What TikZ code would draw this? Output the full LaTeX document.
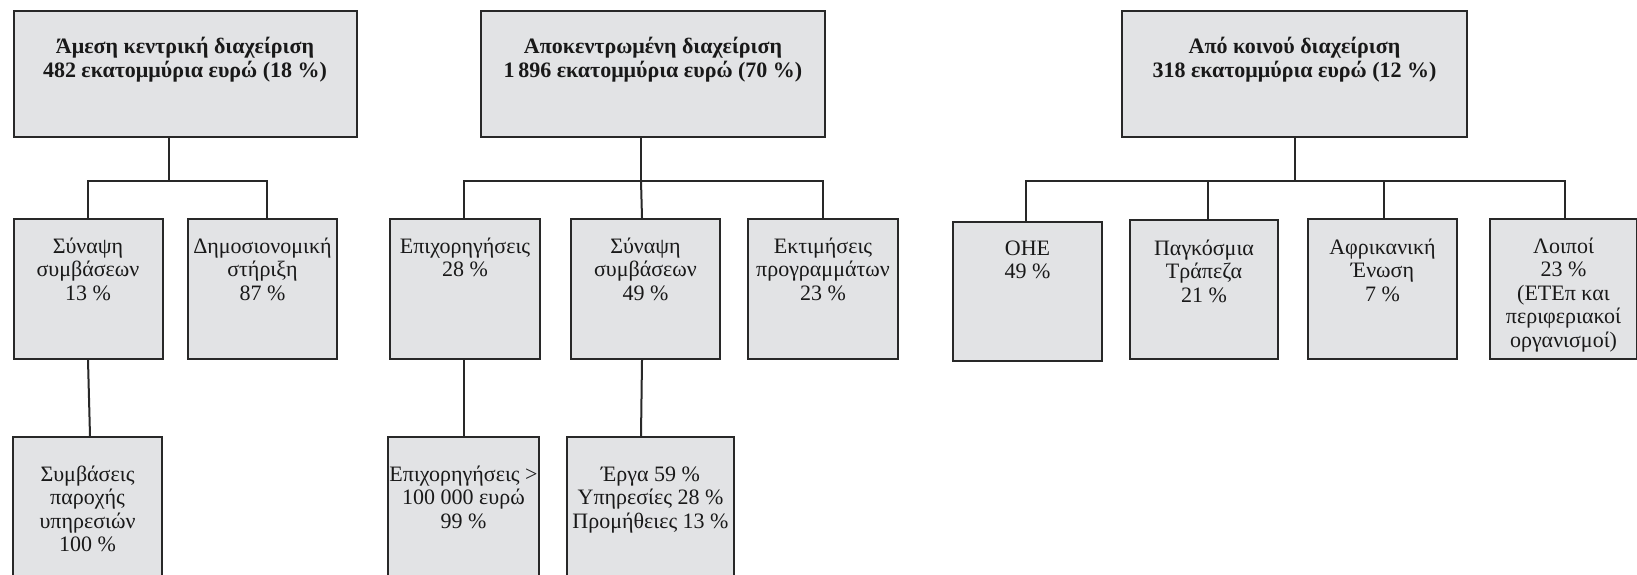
\documentclass[tikz,border=0pt]{standalone}
\usepackage{fontspec}
\setmainfont{Liberation Serif}
\definecolor{boxfill}{RGB}{226,227,229}
\definecolor{linec}{RGB}{40,40,40}
\definecolor{textc}{RGB}{25,25,25}
\tikzset{
  box/.style={draw=linec, line width=2pt, fill=boxfill, rectangle, inner sep=0pt, anchor=north west},
  lbl/.style={anchor=base, align=center, inner sep=0pt, text=textc, font=\fontsize{22}{23.5}\selectfont},
  hd/.style={lbl, font=\fontsize{22}{23.5}\selectfont\bfseries},
  conn/.style={draw=linec, line width=2pt},
}
\begin{document}
\begin{tikzpicture}[x=1pt, y=-1pt]
\useasboundingbox (0,0) rectangle (1637,575);
\clip (0,0) rectangle (1637,575);
% top boxes
\node[box, minimum width=343, minimum height=126] (t1) at (12.5,10) {};
\node[box, minimum width=344, minimum height=126] (t2) at (480,10) {};
\node[box, minimum width=345, minimum height=126] (t3) at (1121,10) {};
% row 1
\node[box, minimum width=149, minimum height=140] (a1) at (12.5,218) {};
\node[box, minimum width=149, minimum height=140] (a2) at (187,218) {};
\node[box, minimum width=150, minimum height=140] (b1) at (389,218) {};
\node[box, minimum width=149, minimum height=140] (b2) at (570,218) {};
\node[box, minimum width=150, minimum height=140] (b3) at (747,218) {};
\node[box, minimum width=149, minimum height=139] (c1) at (952,221) {};
\node[box, minimum width=148, minimum height=139] (c2) at (1129,219) {};
\node[box, minimum width=149, minimum height=140] (c3) at (1307,218) {};
\node[box, minimum width=147, minimum height=140] (c4) at (1489,218) {};
% row 2
\node[box, minimum width=149, minimum height=160] (a1c) at (12,436) {};
\node[box, minimum width=151, minimum height=160] (b1c) at (387,436) {};
\node[box, minimum width=167, minimum height=160] (b2c) at (566,436) {};
% bus points
\coordinate (ja) at (169,181);
\coordinate (jb) at (641,181);
\coordinate (jc) at (1295,181);
% connectors
\draw[conn] (t1.south -| ja) -- (ja);
\draw[conn] (t2.south -| jb) -- (jb);
\draw[conn] (t3.south -| jc) -- (jc);
\draw[conn] (a1.north) |- (ja) -| ([xshift=4.5pt]a2.north);
\draw[conn] ([xshift=-1pt]b1.north) |- (jb) -| (b3.north);
\draw[conn] ([xshift=-3.5pt]b2.north) -- (jb);
\draw[conn] ([xshift=-1.5pt]c1.north) |- (jc) -| ([xshift=1.5pt]c4.north);
\draw[conn] ([xshift=4pt]c2.north) -- ([xshift=4pt]c2.north |- jc);
\draw[conn] ([xshift=1.5pt]c3.north) -- ([xshift=1.5pt]c3.north |- jc);
\draw[conn] (a1.south) -- ([xshift=2.5pt]a1c.north);
\draw[conn] ([xshift=-1pt]b1.south) -- ([xshift=0.5pt]b1c.north);
\draw[conn] ([xshift=-3.5pt]b2.south) -- (b2c.north -| jb);
% texts (anchor=base is the baseline of the last line)
\node[hd] (t1t) at (t1.north |- 0,77.5) {Άμεση κεντρική διαχείριση\\482 εκατομμύρια ευρώ (18 \%)};
\node[hd] (t2t) at (t2.north |- 0,77.5) {Αποκεντρωμένη διαχείριση\\1\,896 εκατομμύρια ευρώ (70 \%)};
\node[hd] (t3t) at (t3.north |- 0,77.5) {Από κοινού διαχείριση\\318 εκατομμύρια ευρώ (12 \%)};
\node[lbl] (a1t) at (a1.north |- 0,300) {Σύναψη\\συμβάσεων\\13 \%};
\node[lbl] (a2t) at (a2.north |- 0,300) {Δημοσιονομική\\στήριξη\\87 \%};
\node[lbl] (b1t) at (b1.north |- 0,276.5) {Επιχορηγήσεις\\28 \%};
\node[lbl] (b2t) at (b2.north |- 0,300) {Σύναψη\\συμβάσεων\\49 \%};
\node[lbl] (b3t) at (b3.north |- 0,300) {Εκτιμήσεις\\προγραμμάτων\\23 \%};
\node[lbl] (c1t) at (c1.north |- 0,278.5) {ΟΗΕ\\49 \%};
\node[lbl] (c2t) at (c2.north |- 0,302) {Παγκόσμια\\Τράπεζα\\21 \%};
\node[lbl] (c3t) at (c3.north |- 0,301) {Αφρικανική\\Ένωση\\7 \%};
\node[lbl] (c4t) at (c4.north |- 0,347) {Λοιποί\\23 \%\\(ΕΤΕπ και\\περιφεριακοί\\οργανισμοί)};
\node[lbl] (a1ct) at (a1c.north |- 0,551.5) {Συμβάσεις\\παροχής\\υπηρεσιών\\100 \%};
\node[lbl] (b1ct) at (b1c.north |- 0,528) {Επιχορηγήσεις >\\100 000 ευρώ\\99 \%};
\node[lbl] (b2ct) at (b2c.north |- 0,528) {Έργα 59 \%\\Υπηρεσίες 28 \%\\Προμήθειες 13 \%};
\end{tikzpicture}
\end{document}
